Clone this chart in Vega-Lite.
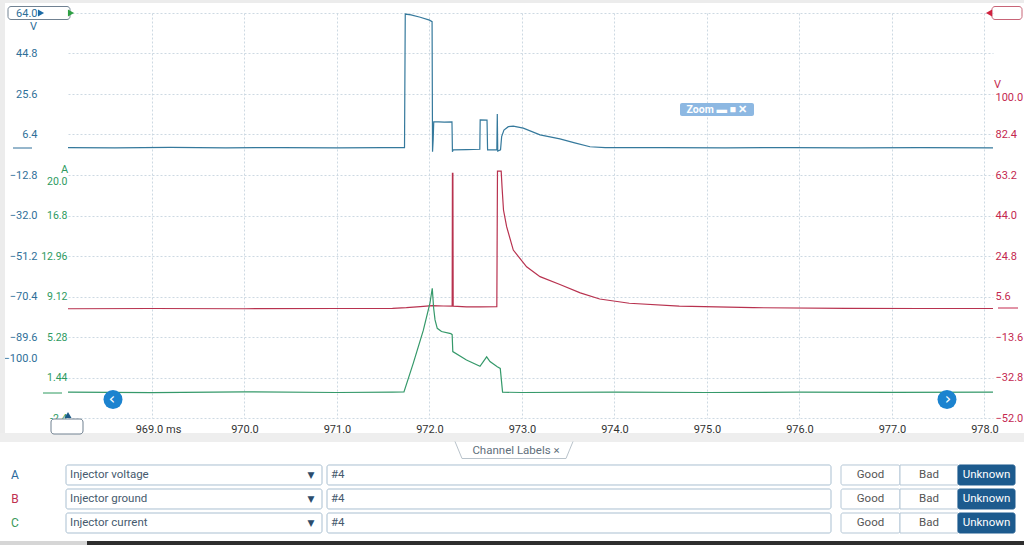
{
  "$schema": "https://vega.github.io/schema/vega-lite/v6.json",
  "width": 925,
  "height": 405,
  "autosize": {"type": "none"},
  "padding": {"left": 68, "top": 13, "right": 31, "bottom": 127},
  "background": "#ffffff",
  "config": {
    "view": {"stroke": null},
    "axis": {"labelFont": "Roboto", "titleFont": "Roboto", "labelFontSize": 11, "domain": false, "ticks": false, "tickSize": 0, "grid": false, "labelFlush": false, "labelOverlap": false}
  },
  "datasets": {
    "traces": [
      {"ch": "A", "t": 968.092, "v": 0.2}, {"ch": "A", "t": 968.6, "v": 0.1}, {"ch": "A", "t": 969.2, "v": 0.3}, {"ch": "A", "t": 969.8, "v": 0.1},
      {"ch": "A", "t": 970.4, "v": 0.2}, {"ch": "A", "t": 971.0, "v": 0.1}, {"ch": "A", "t": 971.5, "v": 0.2}, {"ch": "A", "t": 971.73, "v": 0.2},
      {"ch": "A", "t": 971.738, "v": 63.5}, {"ch": "A", "t": 971.8, "v": 63.1}, {"ch": "A", "t": 971.9, "v": 62.0}, {"ch": "A", "t": 972.0, "v": 60.6},
      {"ch": "A", "t": 972.028, "v": 59.9}, {"ch": "A", "t": 972.033, "v": -1.8}, {"ch": "A", "t": 972.04, "v": 4.0}, {"ch": "A", "t": 972.046, "v": 12.4},
      {"ch": "A", "t": 972.1, "v": 12.4}, {"ch": "A", "t": 972.16, "v": 12.3}, {"ch": "A", "t": 972.243, "v": 12.4}, {"ch": "A", "t": 972.248, "v": -1.8},
      {"ch": "A", "t": 972.256, "v": -0.9}, {"ch": "A", "t": 972.4, "v": -0.8}, {"ch": "A", "t": 972.544, "v": -0.6}, {"ch": "A", "t": 972.548, "v": 13.3},
      {"ch": "A", "t": 972.622, "v": 13.2}, {"ch": "A", "t": 972.628, "v": -0.9}, {"ch": "A", "t": 972.728, "v": -0.9}, {"ch": "A", "t": 972.733, "v": 16.1},
      {"ch": "A", "t": 972.738, "v": -1.5}, {"ch": "A", "t": 972.768, "v": -0.9}, {"ch": "A", "t": 972.78, "v": 5.4}, {"ch": "A", "t": 972.805, "v": 8.5},
      {"ch": "A", "t": 972.852, "v": 10.1}, {"ch": "A", "t": 972.906, "v": 10.4}, {"ch": "A", "t": 973.014, "v": 9.4}, {"ch": "A", "t": 973.195, "v": 6.2},
      {"ch": "A", "t": 973.41, "v": 4.3}, {"ch": "A", "t": 973.57, "v": 2.4}, {"ch": "A", "t": 973.735, "v": 0.6}, {"ch": "A", "t": 973.9, "v": 0.2},
      {"ch": "A", "t": 974.5, "v": 0.2}, {"ch": "A", "t": 975.2, "v": 0.1}, {"ch": "A", "t": 975.9, "v": 0.2}, {"ch": "A", "t": 976.6, "v": 0.1},
      {"ch": "A", "t": 977.3, "v": 0.2}, {"ch": "A", "t": 978.092, "v": 0.1},
      {"ch": "B", "t": 968.092, "v": -0.2}, {"ch": "B", "t": 969.0, "v": -0.1}, {"ch": "B", "t": 970.0, "v": -0.2}, {"ch": "B", "t": 971.0, "v": -0.1},
      {"ch": "B", "t": 971.6, "v": 0.0}, {"ch": "B", "t": 971.75, "v": 0.3}, {"ch": "B", "t": 971.9, "v": 0.8}, {"ch": "B", "t": 972.03, "v": 1.3},
      {"ch": "B", "t": 972.15, "v": 1.1}, {"ch": "B", "t": 972.245, "v": 1.0}, {"ch": "B", "t": 972.248, "v": 64.0}, {"ch": "B", "t": 972.253, "v": 64.0},
      {"ch": "B", "t": 972.256, "v": 1.0}, {"ch": "B", "t": 972.4, "v": 0.7}, {"ch": "B", "t": 972.55, "v": 0.7}, {"ch": "B", "t": 972.728, "v": 0.8},
      {"ch": "B", "t": 972.735, "v": 65.0}, {"ch": "B", "t": 972.775, "v": 65.0}, {"ch": "B", "t": 972.785, "v": 57.0}, {"ch": "B", "t": 972.8, "v": 46.6},
      {"ch": "B", "t": 972.834, "v": 38.7}, {"ch": "B", "t": 972.906, "v": 27.6}, {"ch": "B", "t": 973.05, "v": 19.7}, {"ch": "B", "t": 973.195, "v": 15.0},
      {"ch": "B", "t": 973.41, "v": 11.3}, {"ch": "B", "t": 973.63, "v": 7.3}, {"ch": "B", "t": 973.84, "v": 4.4}, {"ch": "B", "t": 974.16, "v": 2.4},
      {"ch": "B", "t": 974.7, "v": 1.0}, {"ch": "B", "t": 975.5, "v": 0.3}, {"ch": "B", "t": 976.5, "v": 0.0}, {"ch": "B", "t": 977.3, "v": -0.1},
      {"ch": "B", "t": 978.092, "v": -0.1},
      {"ch": "C", "t": 968.092, "v": 0.05}, {"ch": "C", "t": 969.0, "v": 0.0}, {"ch": "C", "t": 970.0, "v": 0.08}, {"ch": "C", "t": 971.0, "v": 0.02},
      {"ch": "C", "t": 971.6, "v": 0.05}, {"ch": "C", "t": 971.724, "v": 0.08}, {"ch": "C", "t": 971.825, "v": 2.8}, {"ch": "C", "t": 971.933, "v": 5.9},
      {"ch": "C", "t": 972.005, "v": 8.5}, {"ch": "C", "t": 972.03, "v": 9.9}, {"ch": "C", "t": 972.045, "v": 8.0}, {"ch": "C", "t": 972.06, "v": 6.9},
      {"ch": "C", "t": 972.084, "v": 6.1}, {"ch": "C", "t": 972.13, "v": 5.8}, {"ch": "C", "t": 972.23, "v": 5.6}, {"ch": "C", "t": 972.245, "v": 5.5},
      {"ch": "C", "t": 972.252, "v": 3.9}, {"ch": "C", "t": 972.4, "v": 3.1}, {"ch": "C", "t": 972.546, "v": 2.5}, {"ch": "C", "t": 972.618, "v": 3.4},
      {"ch": "C", "t": 972.654, "v": 2.95}, {"ch": "C", "t": 972.733, "v": 2.45}, {"ch": "C", "t": 972.765, "v": 2.3}, {"ch": "C", "t": 972.79, "v": 0.05},
      {"ch": "C", "t": 973.0, "v": 0.02}, {"ch": "C", "t": 974.0, "v": 0.06}, {"ch": "C", "t": 975.0, "v": 0.02}, {"ch": "C", "t": 976.0, "v": 0.05},
      {"ch": "C", "t": 977.0, "v": 0.03}, {"ch": "C", "t": 978.092, "v": 0.05}
    ],
    "channels": [
      {"ch": "A", "name": "Injector voltage", "note": "#4"},
      {"ch": "B", "name": "Injector ground", "note": "#4"},
      {"ch": "C", "name": "Injector current", "note": "#4"}
    ]
  },
  "layer": [
    {
      "data": {"values": [{}]},
      "layer": [
        {"mark": {"type": "rect", "fill": "#ececec"}, "encoding": {
          "x": {"datum": 0, "type": "quantitative", "scale": {"domain": [0, 1024], "range": [-68, 956], "nice": false, "zero": false}, "axis": null}, "x2": {"datum": 5},
          "y": {"datum": 0, "type": "quantitative", "scale": {"domain": [0, 545], "range": [-13, 532], "nice": false, "zero": false}, "axis": null}, "y2": {"datum": 433}}},
        {"mark": {"type": "rect", "fill": "#ececec"}, "encoding": {
          "x": {"datum": 0, "type": "quantitative", "scale": {"domain": [0, 1024], "range": [-68, 956], "nice": false, "zero": false}, "axis": null}, "x2": {"datum": 1024},
          "y": {"datum": 0, "type": "quantitative", "scale": {"domain": [0, 545], "range": [-13, 532], "nice": false, "zero": false}, "axis": null}, "y2": {"datum": 3}}},
        {"mark": {"type": "rect", "fill": "#eeeeee"}, "encoding": {
          "x": {"datum": 0, "type": "quantitative", "scale": {"domain": [0, 1024], "range": [-68, 956], "nice": false, "zero": false}, "axis": null}, "x2": {"datum": 1024},
          "y": {"datum": 433, "type": "quantitative", "scale": {"domain": [0, 545], "range": [-13, 532], "nice": false, "zero": false}, "axis": null}, "y2": {"datum": 442}}},
        {"mark": {"type": "rect", "fill": "#2e2e2e"}, "encoding": {
          "x": {"datum": 87, "type": "quantitative", "scale": {"domain": [0, 1024], "range": [-68, 956], "nice": false, "zero": false}, "axis": null}, "x2": {"datum": 1024},
          "y": {"datum": 541, "type": "quantitative", "scale": {"domain": [0, 545], "range": [-13, 532], "nice": false, "zero": false}, "axis": null}, "y2": {"datum": 545}}},
        {"mark": {"type": "rect", "fill": "#d6d6d6"}, "encoding": {
          "x": {"datum": 0, "type": "quantitative", "scale": {"domain": [0, 1024], "range": [-68, 956], "nice": false, "zero": false}, "axis": null}, "x2": {"datum": 87},
          "y": {"datum": 541, "type": "quantitative", "scale": {"domain": [0, 545], "range": [-13, 532], "nice": false, "zero": false}, "axis": null}, "y2": {"datum": 545}}}
      ]
    },
    {
      "data": {"name": "traces"},
      "encoding": {
        "x": {"field": "t", "type": "quantitative", "scale": {"domain": [968.092, 978.092], "nice": false, "zero": false},
          "axis": {"orient": "bottom", "values": [969, 970, 971, 972, 973, 974, 975, 976, 977, 978], "grid": true, "gridColor": "#cdd9e2", "gridDash": [2, 2], "gridWidth": 1,
            "labelExpr": "datum.value == 969 ? '969.0 ms' : format(datum.value, '.1f')", "labelColor": "#333333", "labelPadding": 5,
            "labelOffset": {"condition": {"test": "datum.value == 969", "value": 6}, "value": 0}, "title": null}}
      },
      "layer": [
        {
          "transform": [{"filter": "datum.ch === 'A'"}],
          "mark": {"type": "line", "color": "#35799c", "strokeWidth": 1.2},
          "encoding": {
            "y": {"field": "v", "type": "quantitative", "scale": {"domain": [-128, 64], "nice": false, "zero": false},
              "axis": {"orient": "left", "values": [64, 44.8, 25.6, 6.4, -12.8, -32, -51.2, -70.4, -89.6, -100, -108.8, -128],
                "labelExpr": "datum.value < -101 ? '' : format(datum.value, '.1f')", "labelColor": "#2f6f99", "labelPadding": 31,
                "grid": true, "gridColor": "#cdd9e2", "gridDash": [2, 2], "gridWidth": 1,
                "gridOpacity": {"condition": {"test": "datum.value == -100", "value": 0}, "value": 1},
                "title": "V", "titleAngle": 0, "titleX": -35, "titleY": 13, "titleAlign": "center", "titleBaseline": "middle",
                "titleColor": "#2f6f99", "titleFontWeight": "normal", "titleFontSize": 11}}
          }
        },
        {
          "transform": [{"filter": "datum.ch === 'B'"}],
          "mark": {"type": "line", "color": "#b8324f", "strokeWidth": 1.2},
          "encoding": {
            "y": {"field": "v", "type": "quantitative", "scale": {"domain": [-52, 140], "nice": false, "zero": false},
              "axis": {"orient": "right", "values": [100, 82.4, 63.2, 44, 24.8, 5.6, -13.6, -32.8, -52], "format": ".1f",
                "labelColor": "#c4284f", "labelPadding": 2,
                "title": "V", "titleAngle": 0, "titleX": 4, "titleY": 71, "titleAlign": "center", "titleBaseline": "middle",
                "titleColor": "#c4284f", "titleFontWeight": "normal", "titleFontSize": 11}}
          }
        },
        {
          "transform": [{"filter": "datum.ch === 'C'"}],
          "mark": {"type": "line", "color": "#35996a", "strokeWidth": 1.2},
          "encoding": {
            "y": {"field": "v", "type": "quantitative", "scale": {"domain": [-2.4, 36], "nice": false, "zero": false},
              "axis": {"orient": "left", "values": [20, 16.8, 12.96, 9.12, 5.28, 1.44, -2.4],
                "labelExpr": "datum.value == 20 ? '20.0' : datum.value == 16.8 ? '16.8' : datum.value == -2.4 ? '-2.4' : format(datum.value, '.2f')",
                "labelColor": "#2d9a5f", "labelPadding": 1, "labelFontSize": 10.5,
                "title": "A", "titleAngle": 0, "titleX": -4, "titleY": 156, "titleAlign": "center", "titleBaseline": "middle",
                "titleColor": "#2d9a5f", "titleFontWeight": "normal", "titleFontSize": 11}}
          }
        }
      ],
      "resolve": {"scale": {"y": "independent"}, "axis": {"y": "independent"}}
    },
    {
      "data": {"name": "channels"},
      "layer": [
        {"mark": {"type": "rect", "fill": "#ffffff", "stroke": "#a9bfd1", "strokeWidth": 1, "cornerRadius": 2}, "encoding": {
          "x": {"datum": 66, "type": "quantitative", "scale": {"domain": [0, 1024], "range": [-68, 956], "nice": false, "zero": false}, "axis": null}, "x2": {"datum": 322},
          "y": {"field": "ch", "type": "nominal", "scale": {"type": "band", "domain": ["A", "B", "C"], "range": [450, 522], "paddingInner": 0.1667, "paddingOuter": 0.0833}, "axis": null}}},
        {"mark": {"type": "rect", "fill": "#ffffff", "stroke": "#a9bfd1", "strokeWidth": 1, "cornerRadius": 2}, "encoding": {
          "x": {"datum": 327, "type": "quantitative", "scale": {"domain": [0, 1024], "range": [-68, 956], "nice": false, "zero": false}, "axis": null}, "x2": {"datum": 831},
          "y": {"field": "ch", "type": "nominal", "scale": {"type": "band", "domain": ["A", "B", "C"], "range": [450, 522], "paddingInner": 0.1667, "paddingOuter": 0.0833}, "axis": null}}},
        {"mark": {"type": "rect", "fill": "#ffffff", "stroke": "#b5c7d6", "strokeWidth": 1, "cornerRadius": 2}, "encoding": {
          "x": {"datum": 841, "type": "quantitative", "scale": {"domain": [0, 1024], "range": [-68, 956], "nice": false, "zero": false}, "axis": null}, "x2": {"datum": 900},
          "y": {"field": "ch", "type": "nominal", "scale": {"type": "band", "domain": ["A", "B", "C"], "range": [450, 522], "paddingInner": 0.1667, "paddingOuter": 0.0833}, "axis": null}}},
        {"mark": {"type": "rect", "fill": "#ffffff", "stroke": "#b5c7d6", "strokeWidth": 1}, "encoding": {
          "x": {"datum": 900, "type": "quantitative", "scale": {"domain": [0, 1024], "range": [-68, 956], "nice": false, "zero": false}, "axis": null}, "x2": {"datum": 958},
          "y": {"field": "ch", "type": "nominal", "scale": {"type": "band", "domain": ["A", "B", "C"], "range": [450, 522], "paddingInner": 0.1667, "paddingOuter": 0.0833}, "axis": null}}},
        {"mark": {"type": "rect", "fill": "#1d5b8e", "stroke": "#1d5b8e", "strokeWidth": 1, "cornerRadius": 2}, "encoding": {
          "x": {"datum": 958, "type": "quantitative", "scale": {"domain": [0, 1024], "range": [-68, 956], "nice": false, "zero": false}, "axis": null}, "x2": {"datum": 1015},
          "y": {"field": "ch", "type": "nominal", "scale": {"type": "band", "domain": ["A", "B", "C"], "range": [450, 522], "paddingInner": 0.1667, "paddingOuter": 0.0833}, "axis": null}}},
        {"mark": {"type": "text", "align": "center", "baseline": "middle", "font": "Roboto", "fontSize": 12}, "encoding": {
          "x": {"datum": 15, "type": "quantitative", "scale": {"domain": [0, 1024], "range": [-68, 956], "nice": false, "zero": false}, "axis": null},
          "y": {"field": "ch", "type": "nominal", "scale": {"type": "band", "domain": ["A", "B", "C"], "range": [450, 522], "paddingInner": 0.1667, "paddingOuter": 0.0833}, "axis": null},
          "text": {"field": "ch"},
          "color": {"field": "ch", "type": "nominal", "scale": {"domain": ["A", "B", "C"], "range": ["#2a6a9c", "#c0304f", "#3a9a5a"]}, "legend": null}}},
        {"mark": {"type": "text", "align": "left", "baseline": "middle", "font": "Roboto", "fontSize": 11.5, "color": "#465a6e"}, "encoding": {
          "x": {"datum": 70, "type": "quantitative", "scale": {"domain": [0, 1024], "range": [-68, 956], "nice": false, "zero": false}, "axis": null},
          "y": {"field": "ch", "type": "nominal", "scale": {"type": "band", "domain": ["A", "B", "C"], "range": [450, 522], "paddingInner": 0.1667, "paddingOuter": 0.0833}, "axis": null},
          "text": {"field": "name"}}},
        {"mark": {"type": "text", "align": "center", "baseline": "middle", "font": "DejaVu Sans", "fontSize": 9, "color": "#2c4c6c", "text": "▼"}, "encoding": {
          "x": {"datum": 311, "type": "quantitative", "scale": {"domain": [0, 1024], "range": [-68, 956], "nice": false, "zero": false}, "axis": null},
          "y": {"field": "ch", "type": "nominal", "scale": {"type": "band", "domain": ["A", "B", "C"], "range": [450, 522], "paddingInner": 0.1667, "paddingOuter": 0.0833}, "axis": null}}},
        {"mark": {"type": "text", "align": "left", "baseline": "middle", "font": "Roboto", "fontSize": 11.5, "color": "#465a6e"}, "encoding": {
          "x": {"datum": 331, "type": "quantitative", "scale": {"domain": [0, 1024], "range": [-68, 956], "nice": false, "zero": false}, "axis": null},
          "y": {"field": "ch", "type": "nominal", "scale": {"type": "band", "domain": ["A", "B", "C"], "range": [450, 522], "paddingInner": 0.1667, "paddingOuter": 0.0833}, "axis": null},
          "text": {"field": "note"}}},
        {"mark": {"type": "text", "align": "center", "baseline": "middle", "font": "Roboto", "fontSize": 11.5, "color": "#555555", "text": "Good"}, "encoding": {
          "x": {"datum": 870.5, "type": "quantitative", "scale": {"domain": [0, 1024], "range": [-68, 956], "nice": false, "zero": false}, "axis": null},
          "y": {"field": "ch", "type": "nominal", "scale": {"type": "band", "domain": ["A", "B", "C"], "range": [450, 522], "paddingInner": 0.1667, "paddingOuter": 0.0833}, "axis": null}}},
        {"mark": {"type": "text", "align": "center", "baseline": "middle", "font": "Roboto", "fontSize": 11.5, "color": "#555555", "text": "Bad"}, "encoding": {
          "x": {"datum": 929, "type": "quantitative", "scale": {"domain": [0, 1024], "range": [-68, 956], "nice": false, "zero": false}, "axis": null},
          "y": {"field": "ch", "type": "nominal", "scale": {"type": "band", "domain": ["A", "B", "C"], "range": [450, 522], "paddingInner": 0.1667, "paddingOuter": 0.0833}, "axis": null}}},
        {"mark": {"type": "text", "align": "center", "baseline": "middle", "font": "Roboto", "fontSize": 11.5, "color": "#ffffff", "text": "Unknown"}, "encoding": {
          "x": {"datum": 986.5, "type": "quantitative", "scale": {"domain": [0, 1024], "range": [-68, 956], "nice": false, "zero": false}, "axis": null},
          "y": {"field": "ch", "type": "nominal", "scale": {"type": "band", "domain": ["A", "B", "C"], "range": [450, 522], "paddingInner": 0.1667, "paddingOuter": 0.0833}, "axis": null}}}
      ]
    },
    {
      "data": {"values": [{}]},
      "layer": [
        {"mark": {"type": "rule", "color": "#b9c3cb", "strokeWidth": 1}, "encoding": {
          "x": {"datum": 455, "type": "quantitative", "scale": {"domain": [0, 1024], "range": [-68, 956], "nice": false, "zero": false}, "axis": null}, "x2": {"datum": 462},
          "y": {"datum": 441.5, "type": "quantitative", "scale": {"domain": [0, 545], "range": [-13, 532], "nice": false, "zero": false}, "axis": null}, "y2": {"datum": 458.5}}},
        {"mark": {"type": "rule", "color": "#b9c3cb", "strokeWidth": 1}, "encoding": {
          "x": {"datum": 462, "type": "quantitative", "scale": {"domain": [0, 1024], "range": [-68, 956], "nice": false, "zero": false}, "axis": null}, "x2": {"datum": 566},
          "y": {"datum": 458.5, "type": "quantitative", "scale": {"domain": [0, 545], "range": [-13, 532], "nice": false, "zero": false}, "axis": null}, "y2": {"datum": 458.5}}},
        {"mark": {"type": "rule", "color": "#b9c3cb", "strokeWidth": 1}, "encoding": {
          "x": {"datum": 566, "type": "quantitative", "scale": {"domain": [0, 1024], "range": [-68, 956], "nice": false, "zero": false}, "axis": null}, "x2": {"datum": 573},
          "y": {"datum": 458.5, "type": "quantitative", "scale": {"domain": [0, 545], "range": [-13, 532], "nice": false, "zero": false}, "axis": null}, "y2": {"datum": 441.5}}},
        {"mark": {"type": "text", "align": "center", "baseline": "middle", "font": "Roboto", "fontSize": 11.5, "color": "#5f6f7c", "text": "Channel Labels ×"}, "encoding": {
          "x": {"datum": 516, "type": "quantitative", "scale": {"domain": [0, 1024], "range": [-68, 956], "nice": false, "zero": false}, "axis": null},
          "y": {"datum": 451, "type": "quantitative", "scale": {"domain": [0, 545], "range": [-13, 532], "nice": false, "zero": false}, "axis": null}}},
        {"mark": {"type": "rule", "color": "#2f6f99", "strokeWidth": 1}, "encoding": {
          "x": {"datum": 13, "type": "quantitative", "scale": {"domain": [0, 1024], "range": [-68, 956], "nice": false, "zero": false}, "axis": null}, "x2": {"datum": 32},
          "y": {"datum": 148, "type": "quantitative", "scale": {"domain": [0, 545], "range": [-13, 532], "nice": false, "zero": false}, "axis": null}, "y2": {"datum": 148}}},
        {"mark": {"type": "rule", "color": "#2d9a5f", "strokeWidth": 1}, "encoding": {
          "x": {"datum": 43, "type": "quantitative", "scale": {"domain": [0, 1024], "range": [-68, 956], "nice": false, "zero": false}, "axis": null}, "x2": {"datum": 62},
          "y": {"datum": 393, "type": "quantitative", "scale": {"domain": [0, 545], "range": [-13, 532], "nice": false, "zero": false}, "axis": null}, "y2": {"datum": 393}}},
        {"mark": {"type": "rule", "color": "#c4284f", "strokeWidth": 1}, "encoding": {
          "x": {"datum": 998, "type": "quantitative", "scale": {"domain": [0, 1024], "range": [-68, 956], "nice": false, "zero": false}, "axis": null}, "x2": {"datum": 1018},
          "y": {"datum": 308, "type": "quantitative", "scale": {"domain": [0, 545], "range": [-13, 532], "nice": false, "zero": false}, "axis": null}, "y2": {"datum": 308}}},
        {"mark": {"type": "rect", "fill": null, "fillOpacity": 0, "stroke": "#708191", "strokeWidth": 1, "cornerRadius": 3}, "encoding": {
          "x": {"datum": 8, "type": "quantitative", "scale": {"domain": [0, 1024], "range": [-68, 956], "nice": false, "zero": false}, "axis": null}, "x2": {"datum": 70},
          "y": {"datum": 6.5, "type": "quantitative", "scale": {"domain": [0, 545], "range": [-13, 532], "nice": false, "zero": false}, "axis": null}, "y2": {"datum": 19.5}}},
        {"mark": {"type": "rect", "fill": null, "fillOpacity": 0, "stroke": "#c86477", "strokeWidth": 1, "cornerRadius": 3}, "encoding": {
          "x": {"datum": 992, "type": "quantitative", "scale": {"domain": [0, 1024], "range": [-68, 956], "nice": false, "zero": false}, "axis": null}, "x2": {"datum": 1022},
          "y": {"datum": 6.5, "type": "quantitative", "scale": {"domain": [0, 545], "range": [-13, 532], "nice": false, "zero": false}, "axis": null}, "y2": {"datum": 19.5}}},
        {"mark": {"type": "rect", "fill": "#ffffff", "stroke": "#708191", "strokeWidth": 1, "cornerRadius": 3}, "encoding": {
          "x": {"datum": 51, "type": "quantitative", "scale": {"domain": [0, 1024], "range": [-68, 956], "nice": false, "zero": false}, "axis": null}, "x2": {"datum": 83},
          "y": {"datum": 419, "type": "quantitative", "scale": {"domain": [0, 545], "range": [-13, 532], "nice": false, "zero": false}, "axis": null}, "y2": {"datum": 434}}},
        {"mark": {"type": "point", "shape": "triangle-right", "filled": true, "color": "#1b6aa5", "size": 50, "opacity": 1}, "encoding": {
          "x": {"datum": 41, "type": "quantitative", "scale": {"domain": [0, 1024], "range": [-68, 956], "nice": false, "zero": false}, "axis": null},
          "y": {"datum": 13, "type": "quantitative", "scale": {"domain": [0, 545], "range": [-13, 532], "nice": false, "zero": false}, "axis": null}}},
        {"mark": {"type": "point", "shape": "triangle-right", "filled": true, "color": "#2ea043", "size": 50, "opacity": 1}, "encoding": {
          "x": {"datum": 71, "type": "quantitative", "scale": {"domain": [0, 1024], "range": [-68, 956], "nice": false, "zero": false}, "axis": null},
          "y": {"datum": 13, "type": "quantitative", "scale": {"domain": [0, 545], "range": [-13, 532], "nice": false, "zero": false}, "axis": null}}},
        {"mark": {"type": "point", "shape": "triangle-left", "filled": true, "color": "#d0223f", "size": 50, "opacity": 1}, "encoding": {
          "x": {"datum": 989, "type": "quantitative", "scale": {"domain": [0, 1024], "range": [-68, 956], "nice": false, "zero": false}, "axis": null},
          "y": {"datum": 13, "type": "quantitative", "scale": {"domain": [0, 545], "range": [-13, 532], "nice": false, "zero": false}, "axis": null}}},
        {"mark": {"type": "point", "shape": "triangle-up", "filled": true, "color": "#1c5a86", "size": 50, "opacity": 1}, "encoding": {
          "x": {"datum": 68, "type": "quantitative", "scale": {"domain": [0, 1024], "range": [-68, 956], "nice": false, "zero": false}, "axis": null},
          "y": {"datum": 415, "type": "quantitative", "scale": {"domain": [0, 545], "range": [-13, 532], "nice": false, "zero": false}, "axis": null}}},
        {"mark": {"type": "point", "shape": "circle", "filled": true, "color": "#1c83cf", "size": 360, "opacity": 1}, "encoding": {
          "x": {"datum": 113, "type": "quantitative", "scale": {"domain": [0, 1024], "range": [-68, 956], "nice": false, "zero": false}, "axis": null},
          "y": {"datum": 399.5, "type": "quantitative", "scale": {"domain": [0, 545], "range": [-13, 532], "nice": false, "zero": false}, "axis": null}}},
        {"mark": {"type": "point", "shape": "circle", "filled": true, "color": "#1c83cf", "size": 360, "opacity": 1}, "encoding": {
          "x": {"datum": 947, "type": "quantitative", "scale": {"domain": [0, 1024], "range": [-68, 956], "nice": false, "zero": false}, "axis": null},
          "y": {"datum": 399.5, "type": "quantitative", "scale": {"domain": [0, 545], "range": [-13, 532], "nice": false, "zero": false}, "axis": null}}},
        {"mark": {"type": "text", "align": "center", "baseline": "middle", "font": "DejaVu Sans", "fontSize": 16, "color": "#ffffff", "text": "‹"}, "encoding": {
          "x": {"datum": 112, "type": "quantitative", "scale": {"domain": [0, 1024], "range": [-68, 956], "nice": false, "zero": false}, "axis": null},
          "y": {"datum": 398.5, "type": "quantitative", "scale": {"domain": [0, 545], "range": [-13, 532], "nice": false, "zero": false}, "axis": null}}},
        {"mark": {"type": "text", "align": "center", "baseline": "middle", "font": "DejaVu Sans", "fontSize": 16, "color": "#ffffff", "text": "›"}, "encoding": {
          "x": {"datum": 948, "type": "quantitative", "scale": {"domain": [0, 1024], "range": [-68, 956], "nice": false, "zero": false}, "axis": null},
          "y": {"datum": 398.5, "type": "quantitative", "scale": {"domain": [0, 545], "range": [-13, 532], "nice": false, "zero": false}, "axis": null}}},
        {"mark": {"type": "rect", "fill": "#8db8e2", "cornerRadius": 2}, "encoding": {
          "x": {"datum": 680, "type": "quantitative", "scale": {"domain": [0, 1024], "range": [-68, 956], "nice": false, "zero": false}, "axis": null}, "x2": {"datum": 754},
          "y": {"datum": 103, "type": "quantitative", "scale": {"domain": [0, 545], "range": [-13, 532], "nice": false, "zero": false}, "axis": null}, "y2": {"datum": 116}}},
        {"mark": {"type": "text", "align": "center", "baseline": "middle", "font": "Roboto", "fontWeight": "bold", "fontSize": 10.5, "color": "#ffffff", "text": "Zoom ▬ ■ ✕"}, "encoding": {
          "x": {"datum": 717, "type": "quantitative", "scale": {"domain": [0, 1024], "range": [-68, 956], "nice": false, "zero": false}, "axis": null},
          "y": {"datum": 110, "type": "quantitative", "scale": {"domain": [0, 545], "range": [-13, 532], "nice": false, "zero": false}, "axis": null}}}
      ]
    }
  ],
  "resolve": {"scale": {"x": "independent", "y": "independent", "color": "independent"}, "axis": {"x": "independent", "y": "independent"}}
}
